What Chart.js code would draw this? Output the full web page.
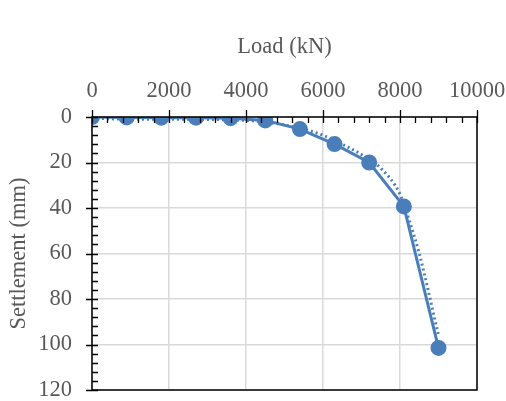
<!DOCTYPE html>
<html>
<head>
<meta charset="utf-8">
<script src="https://cdn.jsdelivr.net/npm/chart.js@4"></script>
<style>
  html, body { margin: 0; padding: 0; background: #fff; }
  #wrap { width: 506px; height: 401px; position: relative; }
</style>
</head>
<body>
<div id="wrap"><canvas id="loadChart"></canvas></div>
<script>
// --- DATA ---
const loads = [0, 900, 1800, 2700, 3600, 4500, 5400, 6300, 7200, 8100, 9000];
const settlements = [0, 0.2, 0.3, 0.3, 0.5, 1.5, 5.3, 11.9, 20, 39.3, 101.5];

// dotted trend curve
const trendLoads = [0, 1000, 2000, 3000, 4000, 5000, 6000, 6500, 7000, 7500, 8000, 8250, 8500, 9000];
const trendSettlements = [0.5, 1, 1, 1.1, 1.5, 3.5, 8, 12, 16.5, 22.5, 34, 46, 60, 96];

const xTicks = [0, 2000, 4000, 6000, 8000, 10000];
const yTicks = [0, 20, 40, 60, 80, 100, 120];

const blue = '#4a7ebb';
const grey = '#595959';
const serif = "'Liberation Serif', 'Times New Roman', serif";
const fontSize = 22.5;

const toPoints = (xs, ys) => xs.map((x, i) => ({ x: x, y: ys[i] }));

// frame + excel-style tick marks (major cross the axis, minor point inward)
const axisMarks = {
    id: 'axisMarks',
    afterDraw(chart) {
        const { ctx, chartArea: a, scales: { x, y } } = chart;
        ctx.save();
        ctx.strokeStyle = '#000';
        ctx.lineWidth = 1.5;
        ctx.strokeRect(a.left, a.top, a.right - a.left, a.bottom - a.top);

        ctx.lineWidth = 1.3;
        ctx.beginPath();
        // x axis (top)
        for (let v = 0; v <= 10000; v += 400) {
            const px = Math.round(x.getPixelForValue(v)) + 0.5;
            const major = v % 2000 === 0;
            ctx.moveTo(px, a.top - (major ? 7 : 0));
            ctx.lineTo(px, a.top + 6);
        }
        // y axis (left)
        for (let v = 0; v <= 120; v += 4) {
            const py = Math.round(y.getPixelForValue(v)) + 0.5;
            const major = v % 20 === 0;
            ctx.moveTo(a.left - (major ? 6 : 0), py);
            ctx.lineTo(a.left + 6, py);
        }
        ctx.stroke();
        ctx.restore();
    }
};

const ctx = document.getElementById('loadChart').getContext('2d');

const chart = new Chart(ctx, {
    type: 'scatter',
    data: {
        datasets: [{
            label: 'Measured',
            data: toPoints(loads, settlements),
            showLine: true,
            borderColor: blue,
            backgroundColor: blue,
            borderWidth: 3,
            pointRadius: 6.5,
            pointHoverRadius: 6.5,
            tension: 0
        }, {
            label: 'Trend',
            data: toPoints(trendLoads, trendSettlements),
            showLine: true,
            borderColor: blue,
            borderWidth: 3,
            borderDash: [2, 3],
            pointRadius: 0,
            cubicInterpolationMode: 'monotone'
        }]
    },
    options: {
        responsive: true,
        maintainAspectRatio: false,
        animation: false,
        layout: { padding: { left: 0, right: 29, top: 0, bottom: 11 } },
        plugins: {
            legend: { display: false },
            tooltip: { enabled: false }
        },
        scales: {
            x: {
                type: 'linear',
                position: 'top',
                min: 0,
                max: 10000,
                afterBuildTicks: (s) => { s.ticks = xTicks.map(v => ({ value: v })); },
                afterFit: (s) => { s.height = 117; s.paddingLeft = 0; s.paddingRight = 0; },
                grid: { color: '#d9d9d9', lineWidth: 1.5, drawTicks: false },
                border: { display: false },
                ticks: {
                    color: grey,
                    padding: 12,
                    maxRotation: 0,
                    autoSkip: false,
                    callback: (v) => String(v),
                    font: { family: serif, size: fontSize }
                },
                title: {
                    display: true,
                    text: 'Load (kN)',
                    color: grey,
                    padding: { top: 34, bottom: 0 },
                    font: { family: serif, size: fontSize }
                }
            },
            y: {
                type: 'linear',
                reverse: true,
                min: 0,
                max: 120,
                afterBuildTicks: (s) => { s.ticks = yTicks.map(v => ({ value: v })); },
                afterFit: (s) => { s.width = 92; s.paddingTop = 0; s.paddingBottom = 0; },
                grid: { color: '#d9d9d9', lineWidth: 1.5, drawTicks: false },
                border: { display: false },
                ticks: {
                    color: grey,
                    padding: 20,
                    autoSkip: false,
                    callback: (v) => String(v),
                    font: { family: serif, size: fontSize }
                },
                title: {
                    display: true,
                    text: 'Settlement (mm)',
                    color: grey,
                    padding: { top: 6, bottom: 0 },
                    font: { family: serif, size: fontSize }
                }
            }
        }
    },
    plugins: [axisMarks]
});
</script>
</body>
</html>
